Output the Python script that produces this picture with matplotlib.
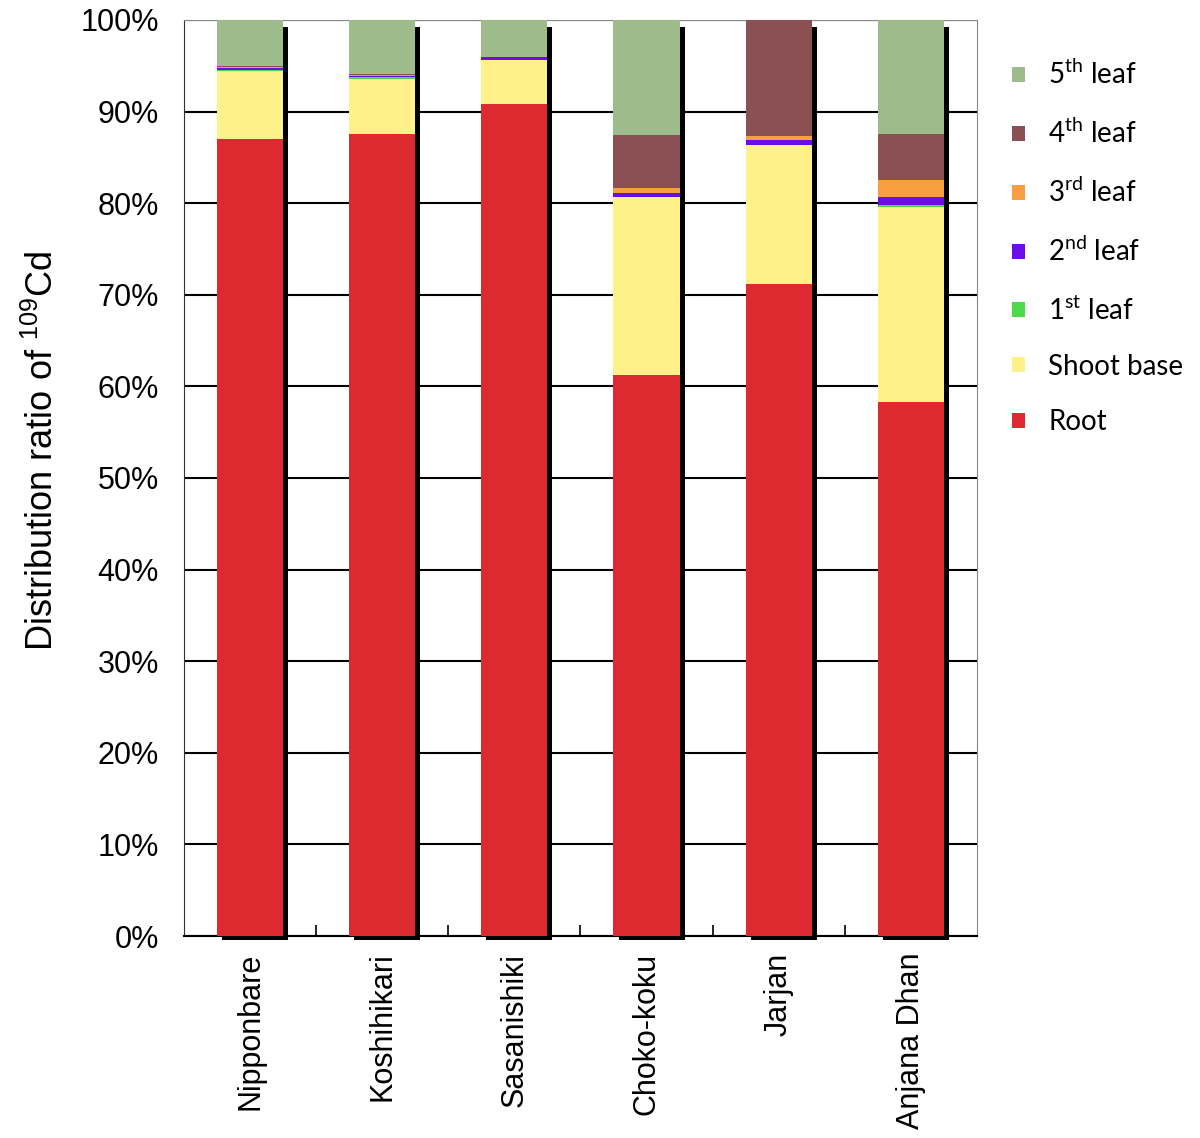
import matplotlib.pyplot as plt
import numpy as np

cultivars = ['Nipponbare', 'Koshihikari', 'Sasanishiki', 'Choko-koku', 'Jarjan', 'Anjana Dhan']

# distribution ratio (%) per part, bottom to top
root = [87.0, 87.6, 90.8, 61.2, 71.2, 58.3]
shoot_base = [7.4, 6.0, 4.8, 19.5, 15.2, 21.3]
leaf1 = [0.1, 0.2, 0.0, 0.0, 0.0, 0.2]
leaf2 = [0.3, 0.05, 0.4, 0.4, 0.45, 0.9]
leaf3 = [0.1, 0.15, 0.0, 0.6, 0.45, 1.8]
leaf4 = [0.1, 0.1, 0.0, 5.7, 12.7, 5.1]
leaf5 = [5.0, 5.9, 4.0, 12.6, 0.0, 12.4]

parts = [root, shoot_base, leaf1, leaf2, leaf3, leaf4, leaf5]
labels = ['Root', 'Shoot base', '1$^{\\mathregular{st}}$ leaf', '2$^{\\mathregular{nd}}$ leaf',
          '3$^{\\mathregular{rd}}$ leaf', '4$^{\\mathregular{th}}$ leaf', '5$^{\\mathregular{th}}$ leaf']
colors = ['#dc2a30', '#fff18a', '#4cd94c', '#6a0de6', '#f79e3f', '#8b5054', '#9dbb8b']

plt.rcParams['font.family'] = ['Liberation Sans', 'DejaVu Sans']

fig = plt.figure(figsize=(12, 11.38), dpi=100)
ax = fig.add_axes([0.1533, 0.1775, 0.6608, 0.805])

x = np.arange(len(cultivars))
w = 0.5

# drop shadow behind each stack
totals = np.sum(parts, axis=0)
ax.bar(x + 0.038, totals - 0.3, w, bottom=-0.45, color='black', zorder=2, clip_on=False)

bottom = np.zeros(len(cultivars))
for vals, lab, c in zip(parts, labels, colors):
    ax.bar(x, vals, w, bottom=bottom, color=c, label=lab, zorder=3)
    bottom += np.array(vals)

ax.set_xlim(-0.5, len(cultivars) - 0.5)
ax.set_ylim(0, 100)
ax.set_yticks(range(0, 101, 10))
ax.set_yticklabels([f'{v}%' for v in range(0, 101, 10)])
ax.yaxis.grid(True, color='black', linewidth=1.5, zorder=0)
ax.set_axisbelow(True)
ax.tick_params(axis='y', length=0, pad=18, labelsize=22)

ax.set_xticks(x)
ax.set_xticklabels(cultivars, rotation=90, fontsize=22)
ax.set_xticks(np.arange(0.5, len(cultivars) - 1, 1), minor=True)
ax.tick_params(axis='x', which='major', length=0, pad=12)
ax.tick_params(axis='x', which='minor', direction='in', length=8, width=1.2, color='black')

ax.spines['left'].set_linestyle((0, (2, 1)))
ax.spines['left'].set_color('#333333')
ax.spines['top'].set_color('#888888')
ax.spines['right'].set_color('#888888')
ax.spines['bottom'].set_color('black')
ax.spines['bottom'].set_linewidth(1.5)

ax.set_ylabel('Distribution ratio of $^{\\mathregular{109}}$Cd', fontsize=26)
ax.yaxis.set_label_coords(-0.155, 0.53)

h, l = ax.get_legend_handles_labels()
fig.legend(h[::-1], l[::-1], loc='upper left', bbox_to_anchor=(0.8225, 0.970),
           frameon=False, prop={'family': 'Lato', 'size': 20},
           handlelength=0.45, handleheight=0.45, labelspacing=1.05, handletextpad=0.85)

fig.savefig('out.png', dpi=100)
